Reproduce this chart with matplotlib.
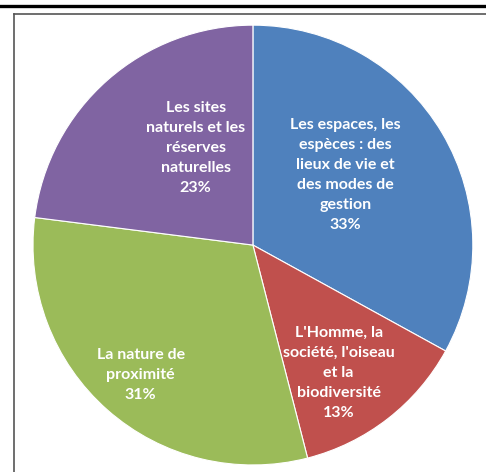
import matplotlib
matplotlib.use("Agg")
import matplotlib.pyplot as plt
from matplotlib.lines import Line2D

# Répartition des thèmes (en %)
themes = [
    "Les espaces, les\nespèces : des\nlieux de vie et\ndes modes de\ngestion",
    "L'Homme, la\nsociété, l'oiseau\net la\nbiodiversité",
    "La nature de\nproximité",
    "Les sites\nnaturels et les\nréserves\nnaturelles",
]
parts = [33, 13, 31, 23]
colors = ["#4F81BD", "#C0504D", "#9BBB59", "#8064A2"]

# position des étiquettes dans le repère du camembert (rayon = 1)
label_x = [0.42, 0.39, -0.51, -0.26]
label_y = [0.32, -0.58, -0.59, 0.44]

fig = plt.figure(figsize=(4.86, 4.72), dpi=100)
ax = fig.add_axes([0.0679, 0.0148, 0.905, 0.932])

ax.pie(parts, colors=colors, startangle=90, counterclock=False,
       wedgeprops={"edgecolor": "white", "linewidth": 0.8})
ax.set_xlim(-1.0, 1.0)
ax.set_ylim(-1.0, 1.0)
ax.set_aspect("equal")
ax.axis("off")

for txt, v, x, y in zip(themes, parts, label_x, label_y):
    ax.text(x, y, f"{txt}\n{v}%", ha="center", va="center", color="white",
            fontsize=11.5, fontweight="bold", family="Lato", linespacing=1.55)

# cadre autour du graphique
fig.add_artist(Line2D([0, 1], [1 - 5.5 / 472] * 2, color="black", lw=2.4,
                      transform=fig.transFigure))
fig.add_artist(Line2D([13.5 / 486, 1], [1 - 14 / 472] * 2, color="#555555", lw=1.2,
                      transform=fig.transFigure))
fig.add_artist(Line2D([13.5 / 486] * 2, [0, 1 - 14 / 472], color="#555555", lw=1.2,
                      transform=fig.transFigure))

fig.savefig("out.png", dpi=100)
